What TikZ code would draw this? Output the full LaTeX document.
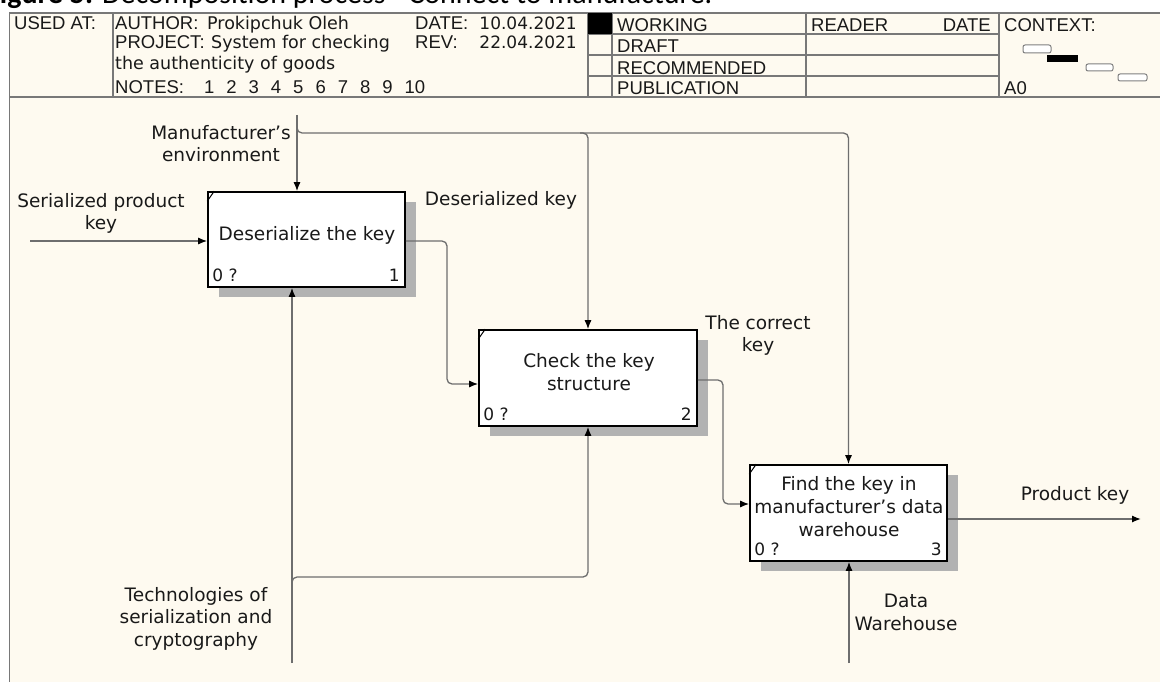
\documentclass[tikz,border=0pt]{standalone}
\usepackage{fontspec}
\setmainfont{DejaVu Sans}
\newfontfamily\hdrfont{Liberation Sans}
\newfontfamily\capfont{Carlito}
\usetikzlibrary{arrows.meta,shadows,calc}
\definecolor{cream}{RGB}{254,250,240}
\definecolor{lncol}{RGB}{110,110,110}
\definecolor{hdrline}{RGB}{120,120,120}
\definecolor{shadowgray}{RGB}{178,178,178}
\definecolor{txt}{RGB}{25,25,25}
\tikzset{
  procbox/.style={draw=black, line width=1.6pt, fill=white, inner sep=0pt,
    drop shadow={shadow xshift=11pt, shadow yshift=-10pt, fill=shadowgray, opacity=1}},
  boxtext/.style={font=\fontsize{18.5}{23}\selectfont, text=txt, align=center, inner sep=0pt},
  lbl/.style={font=\fontsize{18.5}{22.5}\selectfont, text=txt, align=center, inner sep=0pt},
  numtext/.style={font=\fontsize{17}{20}\selectfont, text=txt, inner sep=0pt},
  conn/.style={draw=lncol, line width=1.3pt, rounded corners=5pt},
  arr/.style={-{Latex[length=9pt,width=7pt,color=black]}},
  hline/.style={draw=hdrline, line width=1.3pt},
  hlab/.style={font=\hdrfont\fontsize{18.5}{20}\selectfont, text=txt, inner sep=0pt, anchor=base west},
  hval/.style={font=\fontsize{17.5}{20}\selectfont, text=txt, inner sep=0pt, anchor=base west},
  capt/.style={font=\capfont\fontsize{30}{32}\selectfont, text=black, inner sep=0pt, anchor=base west},
  ctxbox/.style={draw=gray, line width=1pt, fill=white, rounded corners=2pt}
}
\begin{document}
\begin{tikzpicture}[x=1pt,y=-1pt]
\useasboundingbox (0,0) rectangle (1160,682);
\clip (0,0) rectangle (1160,682);
\fill[white] (0,0) rectangle (1160,682);
\fill[cream] (9.5,13) rectangle (1170,690);
% caption (cut off at top)
\node[capt] (cap) at (-14,4) {\textbf{Figure 5.} Decomposition process - Connect to manufacture.};
% header frame
\draw[hline] (9.5,13) rectangle (1170,97);
\draw[hline] (9.5,97) -- (9.5,690);
\foreach \xx in {113,588,612,806,999} \draw[hline] (\xx,13) -- (\xx,97);
\foreach \yy in {34,55,76} \draw[hline] (588,\yy) -- (999,\yy);
\fill[black] (588,13) rectangle (612,34);
% header texts
\node[hlab] (usedat) at (14,30) {USED AT:};
\node[hlab] (author) at (115,30) {AUTHOR:};
\node[hval] (authorv) at (207,30) {Prokipchuk Oleh};
\node[hlab] (date) at (415,30) {DATE:};
\node[hval, font=\fontsize{17}{20}\selectfont, anchor=base east] (datev) at (577,30) {10.04.2021};
\node[hlab] (project) at (115,49) {PROJECT:};
\node[hval] (projectv) at (211,49) {System for checking};
\node[hlab] (rev) at (415,49) {REV:};
\node[hval, font=\fontsize{17}{20}\selectfont, anchor=base east] (revv) at (577,49) {22.04.2021};
\node[hval] (projectv2) at (115,70) {the authenticity of goods};
\node[hlab] (notes) at (115,94) {NOTES:\hspace{20pt}1\hspace{12pt}2\hspace{12pt}3\hspace{12pt}4\hspace{12pt}5\hspace{12pt}6\hspace{12pt}7\hspace{12pt}8\hspace{12pt}9\hspace{12pt}10};
\node[hlab] (working) at (617,32) {WORKING};
\node[hlab] (draft) at (617,53) {DRAFT};
\node[hlab] (recom) at (617,74.5) {RECOMMENDED};
\node[hlab] (publ) at (617,95) {PUBLICATION};
\node[hlab] (reader) at (811,32) {READER};
\node[hlab, anchor=base east] (rdate) at (991,32) {DATE};
\node[hlab] (context) at (1004,32) {CONTEXT:};
\node[hlab] (azero) at (1004,95) {A0};
\draw[ctxbox] (1023,45) rectangle (1051,53);
\fill[black] (1047,55) rectangle (1078,62);
\draw[ctxbox] (1086,64) rectangle (1113,71);
\draw[ctxbox] (1118,74) rectangle (1147,81);
% process boxes
\node[procbox, minimum width=197pt, minimum height=95pt] (b1) at (306.5,239.5) {};
\node[procbox, minimum width=218pt, minimum height=96pt] (b2) at (588,378) {};
\node[procbox, minimum width=197pt, minimum height=96pt] (b3) at (848.5,513) {};
\node[boxtext] (b1t) at (307,235) {Deserialize the key};
\node[boxtext] (b2t) at (589,372.5) {Check the key\\structure};
\node[boxtext] (b3t) at (849,507) {Find the key in\\manufacturer’s data\\warehouse};
\foreach \b/\n in {b1/1,b2/2,b3/3}{
  \node[numtext, anchor=west] (\b q) at ([xshift=5pt,yshift=12.5pt]\b.south west) {0 ?};
  \node[numtext, anchor=east] (\b n) at ([xshift=-6pt,yshift=12.5pt]\b.south east) {\n};
  \draw[black, line width=1pt] ([yshift=-10pt]\b.north west) -- ([xshift=7pt]\b.north west);
}
% coordinates
\coordinate (mtop) at (297,115);
\coordinate (mj) at (297,133);
\coordinate (in1) at (30,241);
\coordinate (k1) at (447,241);
\coordinate (k2) at (447,384);
\coordinate (k3) at (723,380);
\coordinate (k4) at (723,504);
\coordinate (out3) at (1141,519);
\coordinate (mbot) at (292,663);
\coordinate (mbr) at (292,577);
\coordinate (dwb) at (849,663);
% controls
\draw[conn, arr] (mtop) -- (mtop |- b1.north);
\draw[conn, arr] ($(mj)+(0,-8)$) -- (mj) -- (b3.north |- mj) -- (b3.north);
\draw[conn, arr] ($(b2.north |- mj)+(-8,0)$) -- (b2.north |- mj) -- (b2.north);
% inputs / outputs
\draw[conn, arr] (in1) -- (in1 -| b1.west);
\draw[conn, arr] (b1.east |- k1) -- (k1) -- (k2) -- (k2 -| b2.west);
\draw[conn, arr] (b2.east |- k3) -- (k3) -- (k4) -- (k4 -| b3.west);
\draw[conn, arr] (out3 -| b3.east) -- (out3);
% mechanisms
\draw[conn, arr] (mbot) -- (mbot |- b1.south);
\draw[conn, arr] ($(mbr)+(0,8)$) -- (mbr) -- (b2.south |- mbr) -- (b2.south);
\draw[conn, arr] (dwb) -- (dwb |- b3.south);
% labels
\node[lbl] (lmfr) at (221,143.5) {Manufacturer’s\\environment};
\node[lbl] (lser) at (101,213.5) {Serialized product\\key};
\node[lbl] (ldes) at (501,200) {Deserialized key};
\node[lbl] (lcor) at (758,335.5) {The correct\\key};
\node[lbl] (lprod) at (1075,495) {Product key};
\node[lbl] (ldw) at (906,612.5) {Data\\Warehouse};
\node[lbl] (ltech) at (196,618.5) {Technologies of\\serialization and\\cryptography};
\end{tikzpicture}
\end{document}
